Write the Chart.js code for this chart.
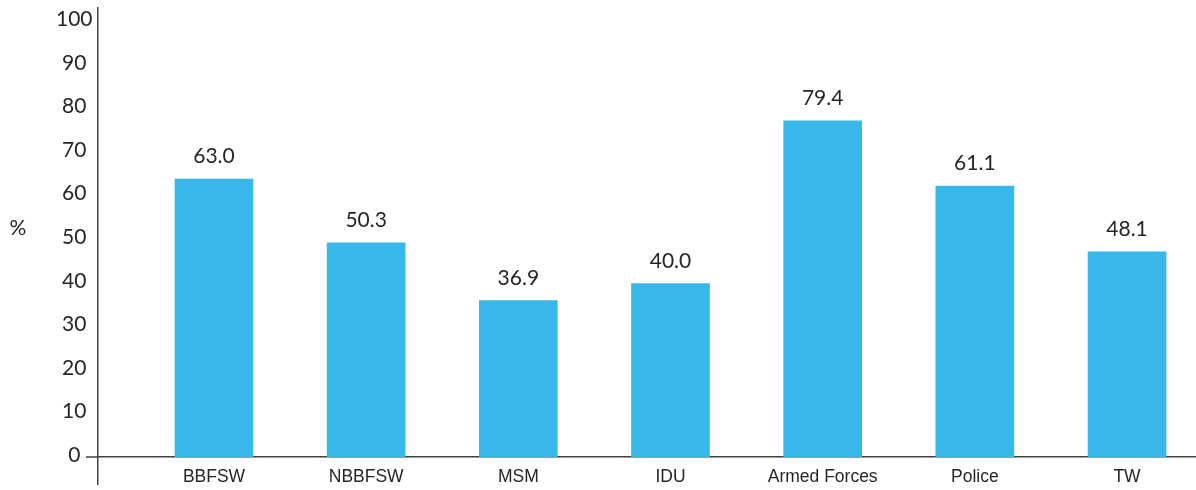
<!DOCTYPE html>
<html>
<head>
<meta charset="utf-8">
<script src="https://cdn.jsdelivr.net/npm/chart.js@4.4.0/dist/chart.umd.min.js"></script>
<style>
  html, body { margin: 0; padding: 0; background: #ffffff; }
  #wrap { width: 1196px; height: 490px; position: relative; }
</style>
</head>
<body>
<div id="wrap"><canvas id="c"></canvas></div>
<script>
// ---- data ----
const categories = ['BBFSW', 'NBBFSW', 'MSM', 'IDU', 'Armed Forces', 'Police', 'TW'];
const barValues = [63.8, 49.2, 35.9, 39.8, 77.2, 62.2, 47.1];        // bar heights as drawn
const valueLabels = ['63.0', '50.3', '36.9', '40.0', '79.4', '61.1', '48.1']; // printed labels
const yTickValues = [0, 10, 20, 30, 40, 50, 60, 70, 80, 90, 100];
const yAxisTitle = '%';

const barColor = '#38B7E9';
const textColor = '#262626';
const axisColor = '#404040';
const numFont = { family: 'Lato, "Open Sans", sans-serif', size: 21 };
const catFont = { family: '"Liberation Sans Narrow", "Liberation Sans", Arial, sans-serif', size: 17.5 };

const extrasPlugin = {
  id: 'extras',
  afterDatasetsDraw(chart) {
    const ctx = chart.ctx;
    const meta = chart.getDatasetMeta(0);
    ctx.save();
    ctx.font = numFont.size + 'px ' + numFont.family;
    ctx.fillStyle = textColor;
    ctx.textAlign = 'center';
    ctx.textBaseline = 'alphabetic';
    meta.data.forEach((bar, i) => {
      ctx.fillText(valueLabels[i], bar.x, bar.y - 16);
    });
    ctx.restore();
  },
  afterDraw(chart) {
    const ctx = chart.ctx;
    const area = chart.chartArea;
    const y0 = chart.scales.y.getPixelForValue(0);
    ctx.save();
    ctx.strokeStyle = axisColor;
    ctx.lineWidth = 1.5;
    ctx.beginPath();
    ctx.moveTo(area.left - 12, y0);
    ctx.lineTo(area.left, y0);
    ctx.stroke();
    ctx.font = numFont.size + 'px ' + numFont.family;
    ctx.fillStyle = textColor;
    ctx.textAlign = 'center';
    ctx.textBaseline = 'alphabetic';
    ctx.fillText(yAxisTitle, 18, 235);
    ctx.restore();
  }
};

new Chart(document.getElementById('c'), {
  type: 'bar',
  data: {
    datasets: [{
      data: categories.map((c, i) => ({ x: i, y: barValues[i] })),
      backgroundColor: barColor,
      borderWidth: 0,
      barThickness: 78
    }]
  },
  options: {
    responsive: true,
    maintainAspectRatio: false,
    animation: false,
    devicePixelRatio: 1,
    layout: { padding: { top: 8, bottom: 6, left: 0, right: 0 } },
    plugins: { legend: { display: false }, tooltip: { enabled: false } },
    scales: {
      x: {
        type: 'linear',
        position: { y: 0 },
        min: -0.7623,
        max: 6.4533,
        offset: false,
        grid: { display: false, drawTicks: false },
        border: { display: true, color: axisColor, width: 1.5 },
        afterBuildTicks(scale) { scale.ticks = categories.map((c, i) => ({ value: i })); },
        afterFit(scale) { scale.paddingLeft = 0; scale.paddingRight = 0; scale.paddingTop = 0; scale.paddingBottom = 0; },
        ticks: {
          autoSkip: false,
          maxRotation: 0,
          padding: 10,
          color: textColor,
          font: catFont,
          callback: (v) => categories[Math.round(v)]
        }
      },
      y: {
        type: 'linear',
        min: -6.2,
        max: 103.1,
        afterFit(scale) { scale.width = 98; scale.paddingTop = 0; scale.paddingBottom = 0; },
        afterBuildTicks(scale) { scale.ticks = yTickValues.map(v => ({ value: v })); },
        grid: { display: false, drawTicks: false },
        border: { display: true, color: axisColor, width: 1.5 },
        ticks: {
          crossAlign: 'center',
          padding: 5.5,
          labelOffset: -2,
          color: textColor,
          font: numFont,
          callback: (v) => String(v)
        }
      }
    }
  },
  plugins: [extrasPlugin]
});
</script>
</body>
</html>
